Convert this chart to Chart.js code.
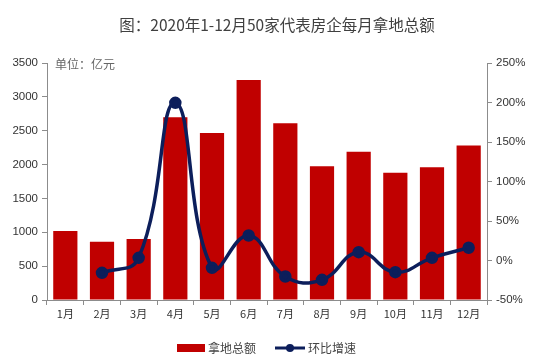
<!DOCTYPE html>
<html>
<head>
<meta charset="utf-8">
<script src="https://cdn.jsdelivr.net/npm/chart.js@4/dist/chart.umd.min.js"></script>
<style>
  html, body { margin: 0; padding: 0; background: #fff; }
  #wrap { width: 544px; height: 359px; }
</style>
</head>
<body>
<div id="wrap"><canvas id="c" width="544" height="359"></canvas></div>
<script>
// 数据
const months = ['1月','2月','3月','4月','5月','6月','7月','8月','9月','10月','11月','12月'];
const landTotal = [1020, 862, 902, 2700, 2465, 3250, 2610, 1975, 2190, 1880, 1960, 2280];
const momGrowth = [null, -0.156, 0.034, 1.996, -0.093, 0.317, -0.203, -0.245, 0.105, -0.148, 0.034, 0.161];
const leftTicks = [0, 3500, 500];
const rightTicks = [-0.5, 2.5, 0.5];

const C = {
  red:   '#C00000',
  navy:  '#0C1E5B',
  axis:  '#8C8C8C',
  text:  '#333333',
};
const cjk = "'Noto Sans CJK SC', sans-serif";
const latin = "'Liberation Sans', Arial, sans-serif";

// 标题、单位、图例
const decor = {
  id: 'decor',
  afterDraw(chart) {
    const { ctx, chartArea: a } = chart;
    ctx.save();
    ctx.fillStyle = '#404040';
    ctx.font = "15.5px " + cjk;
    ctx.textAlign = 'center';
    ctx.textBaseline = 'middle';
    ctx.fillText('图：2020年1-12月50家代表房企每月拿地总额', 277, 25);

    ctx.fillStyle = '#666';
    ctx.font = "12px " + cjk;
    ctx.textAlign = 'left';
    ctx.fillText('单位：亿元', a.left + 8, a.top + 1);

    // legend
    const y = 348;
    const ds = chart.data.datasets;
    ctx.font = "12px " + cjk;
    ctx.fillStyle = C.red;
    ctx.fillRect(177, y - 4, 28, 8);
    ctx.fillStyle = '#444';
    ctx.fillText(ds[0].label, 208, y);
    ctx.strokeStyle = C.navy;
    ctx.lineWidth = 3;
    ctx.beginPath(); ctx.moveTo(275, y); ctx.lineTo(305, y); ctx.stroke();
    ctx.fillStyle = C.navy;
    ctx.beginPath(); ctx.arc(290, y, 4, 0, Math.PI * 2); ctx.fill();
    ctx.fillStyle = '#444';
    ctx.fillText(ds[1].label, 308, y);
    ctx.restore();
  }
};

new Chart(document.getElementById('c'), {
  type: 'bar',
  data: {
    labels: months,
    datasets: [
      { label: '拿地总额', data: landTotal, yAxisID: 'y',
        backgroundColor: C.red, barPercentage: 0.66, categoryPercentage: 1, order: 1 },
      { type: 'line', label: '环比增速', data: momGrowth, yAxisID: 'y2',
        borderColor: C.navy, backgroundColor: C.navy, borderWidth: 3.5,
        pointRadius: 4.5, pointHoverRadius: 4.5, tension: 0.45, spanGaps: false, order: 0 },
    ],
  },
  options: {
    responsive: false,
    animation: false,
    layout: { padding: { top: 63, bottom: 37, left: 0, right: 0 } },
    plugins: { legend: { display: false }, title: { display: false }, tooltip: { enabled: false } },
    scales: {
      x: {
        offset: true,
        border: { color: C.axis, width: 1 },
        grid: { display: true, drawOnChartArea: false, offset: true, tickLength: 5, color: C.axis },
        ticks: { color: C.text, font: { family: cjk, size: 11 }, padding: 2, maxRotation: 0 },
        afterFit: s => { s.height = 22; },
      },
      y: {
        position: 'left',
        min: leftTicks[0], max: leftTicks[1],
        border: { color: C.axis, width: 1 },
        grid: { display: true, drawOnChartArea: false, tickLength: 5, color: C.axis },
        ticks: { stepSize: leftTicks[2], color: C.text, font: { family: latin, size: 11.5 }, padding: 4,
                 callback: v => String(v) },
        afterFit: s => { s.width = 47; },
      },
      y2: {
        position: 'right',
        min: rightTicks[0], max: rightTicks[1],
        border: { color: C.axis, width: 1 },
        grid: { display: true, drawOnChartArea: false, tickLength: 5, color: C.axis },
        ticks: { stepSize: rightTicks[2], color: C.text, font: { family: latin, size: 11.5 }, padding: 4,
                 callback: v => Math.round(v * 100) + '%' },
        afterFit: s => { s.width = 57; },
      },
    },
  },
  plugins: [decor],
});
</script>
</body>
</html>
